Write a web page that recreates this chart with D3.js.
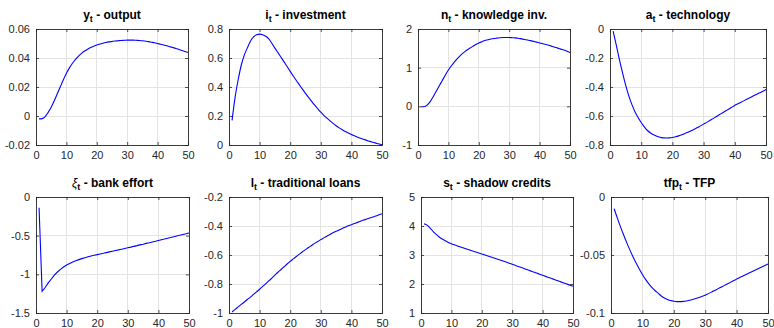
<!DOCTYPE html>
<html><head><meta charset="utf-8">
<script src="https://cdn.jsdelivr.net/npm/d3@7"></script>
<style>
html,body{margin:0;padding:0;background:#fff;}
svg{display:block;font-family:"Liberation Sans",Arial,Helvetica,sans-serif;}
</style></head>
<body>
<svg id="chart" width="774" height="328"></svg>
<script>
// periods 1..50
const periods = d3.range(1, 51);
const xTicks = [0, 10, 20, 30, 40, 50];

const yOutput = [-0.0020,-0.0018,-0.0005,0.0025,0.0060,0.0105,0.0153,0.0202,0.0250,0.0295,
 0.0332,0.0364,0.0391,0.0413,0.0432,0.0448,0.0461,0.0472,0.0481,0.0489,
 0.0496,0.0502,0.0507,0.0511,0.0514,0.0517,0.0519,0.0521,0.0522,0.0523,
 0.0523,0.0523,0.0522,0.0521,0.0519,0.0516,0.0513,0.0509,0.0505,0.0500,
 0.0495,0.0490,0.0484,0.0478,0.0472,0.0466,0.0459,0.0452,0.0445,0.0438];
const iInvestment = [0.17,0.33,0.45,0.55,0.62,0.67,0.715,0.745,0.76,0.765,
 0.761,0.750,0.732,0.702,0.668,0.637,0.605,0.573,0.541,0.508,
 0.476,0.445,0.415,0.385,0.356,0.328,0.301,0.275,0.250,0.226,
 0.205,0.185,0.166,0.149,0.133,0.118,0.105,0.093,0.082,0.072,
 0.063,0.054,0.046,0.039,0.032,0.025,0.019,0.013,0.007,0.002];
const nKnowledge = [-0.01,-0.01,0.03,0.12,0.25,0.39,0.53,0.67,0.81,0.94,
 1.05,1.15,1.24,1.32,1.39,1.45,1.50,1.55,1.60,1.64,
 1.67,1.70,1.72,1.74,1.755,1.765,1.775,1.78,1.78,1.78,
 1.775,1.77,1.76,1.745,1.73,1.715,1.70,1.68,1.66,1.64,
 1.62,1.60,1.58,1.555,1.53,1.505,1.48,1.455,1.425,1.395];
const aTechnology = [-0.015,-0.11,-0.21,-0.30,-0.385,-0.46,-0.52,-0.57,-0.61,-0.645,
 -0.675,-0.70,-0.717,-0.73,-0.74,-0.747,-0.751,-0.752,-0.751,-0.748,
 -0.743,-0.737,-0.73,-0.721,-0.712,-0.702,-0.691,-0.68,-0.668,-0.656,
 -0.644,-0.631,-0.618,-0.605,-0.592,-0.579,-0.566,-0.553,-0.540,-0.527,
 -0.516,-0.505,-0.494,-0.483,-0.472,-0.461,-0.450,-0.440,-0.429,-0.418];
const xiEffort = [-0.14,-1.22,-1.17,-1.11,-1.06,-1.01,-0.97,-0.935,-0.905,-0.88,
 -0.86,-0.84,-0.825,-0.81,-0.797,-0.785,-0.773,-0.763,-0.754,-0.745,
 -0.736,-0.728,-0.719,-0.71,-0.701,-0.692,-0.684,-0.675,-0.666,-0.657,
 -0.648,-0.638,-0.629,-0.619,-0.610,-0.600,-0.591,-0.581,-0.572,-0.562,
 -0.552,-0.543,-0.533,-0.523,-0.514,-0.504,-0.494,-0.484,-0.475,-0.465];
const lLoans = [-0.993,-0.975,-0.958,-0.941,-0.924,-0.907,-0.890,-0.872,-0.854,-0.836,
 -0.817,-0.798,-0.779,-0.759,-0.739,-0.719,-0.700,-0.681,-0.662,-0.644,
 -0.627,-0.610,-0.594,-0.578,-0.563,-0.548,-0.534,-0.520,-0.507,-0.494,
 -0.482,-0.470,-0.458,-0.447,-0.437,-0.427,-0.417,-0.408,-0.399,-0.391,
 -0.383,-0.375,-0.367,-0.359,-0.352,-0.345,-0.338,-0.331,-0.323,-0.315];
const sShadow = [4.08,4.03,3.93,3.81,3.71,3.62,3.55,3.49,3.435,3.39,
 3.35,3.312,3.276,3.241,3.207,3.173,3.139,3.105,3.071,3.037,
 3.002,2.967,2.932,2.897,2.862,2.827,2.792,2.756,2.719,2.681,
 2.643,2.605,2.567,2.529,2.491,2.453,2.415,2.377,2.339,2.301,
 2.263,2.225,2.187,2.149,2.111,2.073,2.035,1.997,1.959,1.921];
const tfpSeries = [-0.0100,-0.0180,-0.0255,-0.0326,-0.0393,-0.0456,-0.0515,-0.0570,-0.0621,-0.0668,
 -0.0710,-0.0747,-0.0779,-0.0806,-0.0829,-0.0853,-0.0870,-0.0883,-0.0893,-0.0899,
 -0.0902,-0.0902,-0.0900,-0.0896,-0.0890,-0.0883,-0.0875,-0.0866,-0.0856,-0.0846,
 -0.0833,-0.0820,-0.0806,-0.0792,-0.0778,-0.0764,-0.0750,-0.0736,-0.0722,-0.0708,
 -0.0694,-0.0681,-0.0668,-0.0655,-0.0642,-0.0629,-0.0616,-0.0603,-0.0590,-0.0577];

const titleMain = ["y","i","n","a","\u03BE","l","s","tfp"];
const titleRest = [" - output"," - investment"," - knowledge inv."," - technology",
 " - bank effort"," - traditional loans"," - shadow credits"," - TFP"];
const seriesList = [yOutput,iInvestment,nKnowledge,aTechnology,xiEffort,lLoans,sShadow,tfpSeries];
const yDomains = [[-0.02,0.06],[0,0.8],[-1,2],[-0.8,0],[-1.5,0],[-1,-0.2],[1,5],[-0.1,0]];
const yTickLists = [
 [-0.02,0,0.02,0.04,0.06],
 [0,0.2,0.4,0.6,0.8],
 [-1,0,1,2],
 [-0.8,-0.6,-0.4,-0.2,0],
 [-1.5,-1,-0.5,0],
 [-1,-0.8,-0.6,-0.4,-0.2],
 [1,2,3,4,5],
 [-0.1,-0.05,0]];

// layout (pixel boxes)
const boxes = [
 {l:36,r:188,t:29,b:145},{l:229,r:382,t:29,b:145},{l:418,r:570,t:29,b:145},{l:610,r:766,t:29,b:145},
 {l:36,r:189,t:197,b:313},{l:229,r:382,t:197,b:313},{l:421,r:573,t:197,b:313},{l:611,r:768,t:197,b:313}];

const svg = d3.select("#chart");
const axisCol = "#262626";
const fmt = v => String(+v.toFixed(4));

seriesList.forEach((data, k) => {
  const bx = boxes[k];
  const x = d3.scaleLinear().domain([0,50]).range([bx.l, bx.r]);
  const y = d3.scaleLinear().domain(yDomains[k]).range([bx.b, bx.t]);
  const g = svg.append("g");

  // grid
  g.selectAll(".gx").data(xTicks.slice(1,-1)).enter().append("line")
    .attr("x1", d=>x(d)).attr("x2", d=>x(d)).attr("y1", bx.t).attr("y2", bx.b)
    .attr("stroke", "#e3e3e3").attr("stroke-width", 1).attr("shape-rendering","crispEdges");
  g.selectAll(".gy").data(yTickLists[k].slice(1,-1)).enter().append("line")
    .attr("x1", bx.l).attr("x2", bx.r).attr("y1", d=>y(d)).attr("y2", d=>y(d))
    .attr("stroke", "#e3e3e3").attr("stroke-width", 1).attr("shape-rendering","crispEdges");

  // line
  const line = d3.line().x((d,i)=>x(periods[i])).y(d=>y(d))
    .curve(k === 4 ? d3.curveLinear : d3.curveMonotoneX);
  g.append("path").datum(data).attr("d", line)
    .attr("fill","none").attr("stroke","#0000ff").attr("stroke-width",1.1);

  // axes
  const xb = g.append("g").attr("transform",`translate(0,${bx.b})`)
    .call(d3.axisBottom(x).tickValues(xTicks).tickSize(-3).tickPadding(6).tickFormat(d3.format("d")));
  const xt = g.append("g").attr("transform",`translate(0,${bx.t})`)
    .call(d3.axisTop(x).tickValues(xTicks).tickSize(-3).tickFormat(""));
  const yl = g.append("g").attr("transform",`translate(${bx.l},0)`)
    .call(d3.axisLeft(y).tickValues(yTickLists[k]).tickSize(-3).tickPadding(6).tickFormat(fmt));
  const yr = g.append("g").attr("transform",`translate(${bx.r},0)`)
    .call(d3.axisRight(y).tickValues(yTickLists[k]).tickSize(-3).tickFormat(""));
  [xb,xt,yl,yr].forEach(a => {
    a.select(".domain").attr("stroke", axisCol).attr("stroke-width",0.9);
    a.selectAll(".tick line").attr("stroke", axisCol).attr("stroke-width",0.8);
    a.selectAll("text").attr("fill", axisCol).attr("font-size", 11)
      .attr("font-family","Liberation Sans, Arial, sans-serif");
  });

  // title
  const cx = (bx.l + bx.r) / 2;
  const tt = g.append("text").attr("x", cx).attr("y", bx.t - 10)
    .attr("text-anchor","middle").attr("font-size",12).attr("font-weight","bold").attr("fill","#000");
  tt.append("tspan").text(titleMain[k]).attr("font-style", k===4 ? "italic" : null)
    .attr("font-weight", k===4 ? "normal" : "bold");
  tt.append("tspan").text("t").attr("font-size",9).attr("dy",3);
  tt.append("tspan").text(titleRest[k]).attr("dy",-3);
});
</script>
</body></html>
